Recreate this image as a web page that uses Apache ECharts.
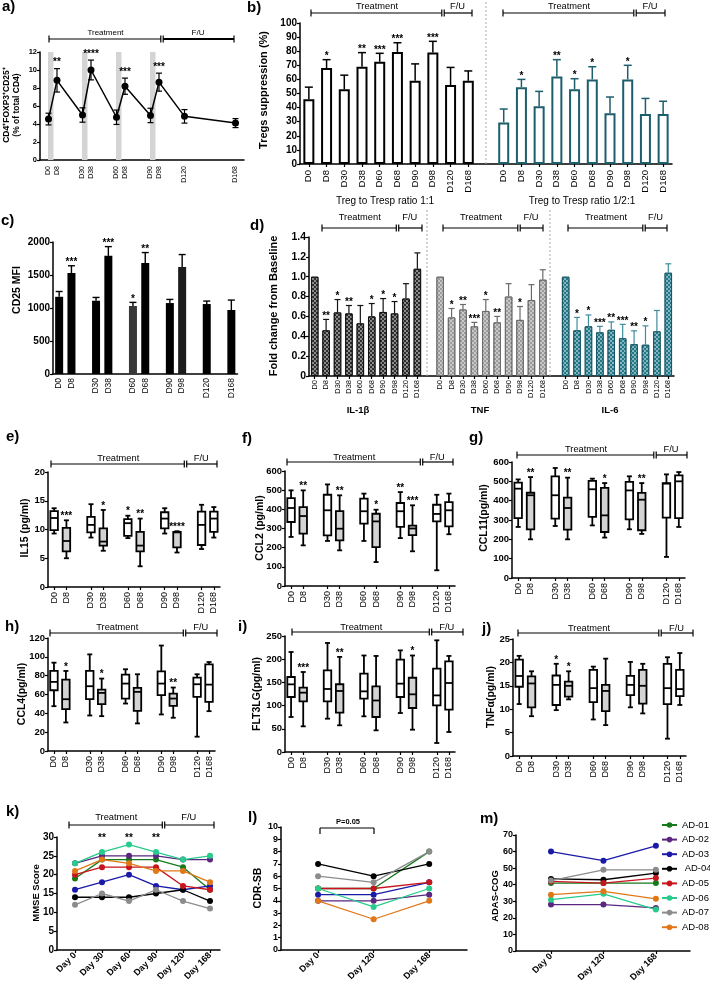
<!DOCTYPE html>
<html><head><meta charset="utf-8">
<script src="https://cdn.jsdelivr.net/npm/echarts@6/dist/echarts.min.js"></script>
<style>html,body{margin:0;padding:0;background:#fff}#c{width:710px;height:991px}</style>
</head><body><div id="c"></div>
<script>
// ================= DATA =================
const PHASES = ['Treatment', 'F/U'];
const days10 = ['D0','D8','D30','D38','D60','D68','D90','D98','D120','D168'];

// a) CD4+FOXP3+CD25+ (% of total CD4)
const aCats  = ['', 'D0','D8','','','D30','D38','','','D60','D68','','','D90','D98','','','D120','','','','','','D168',''];
const aMean  = [4.55, 8.85, 5.0, 10.0, 4.75, 8.2, 4.95, 8.65, 4.85, 4.1];
const aSem   = [0.65, 1.3, 0.8, 1.1, 0.8, 0.9, 0.8, 1.0, 0.75, 0.5];
const aStars = ['', '**', '', '****', '', '***', '', '***', '', ''];
const aShadeDays = ['D0','D30','D60','D90'];

// b) Tregs suppression (%)
const bGroupLabels = ['Treg to Tresp ratio 1:1', 'Treg to Tresp ratio 1/2:1'];
const b1Mean  = [46, 68, 53, 69, 72.5, 79.5, 59, 79, 56, 59];
const b1Top   = [54.5, 74, 63, 79, 78.5, 86, 71, 87, 68.5, 66];
const b1Stars = ['', '*', '', '**', '***', '***', '', '***', '', ''];
const b2Mean  = [29.5, 54.5, 41, 62, 53, 60, 36, 60, 35.5, 35.5];
const b2Top   = [39, 60, 51.5, 74, 60.5, 69, 47.5, 70, 46.5, 44.5];
const b2Stars = ['', '*', '', '**', '*', '*', '', '*', '', ''];

// c) CD25 MFI
const cCats  = ['D0','D8','','D30','D38','','D60','D68','','D90','D98','','D120','','D168'];
const cMean  = [1170, 1530, 1110, 1790, 1030, 1680, 1075, 1620, 1060, 970];
const cTop   = [1250, 1640, 1160, 1930, 1085, 1840, 1130, 1810, 1105, 1120];
const cStars = ['', '***', '', '***', '*', '**', '', '', '', ''];

// d) Fold change from baseline
const dGroupLabels = ['IL-1\u03b2', 'TNF', 'IL-6'];
const dIL1b      = [1.0, 0.46, 0.64, 0.63, 0.53, 0.60, 0.645, 0.63, 0.78, 1.08];
const dIL1bTop   = [null, 0.57, 0.77, 0.71, 0.71, 0.73, 0.78, 0.75, 0.93, 1.24];
const dIL1bStars = ['', '**', '*', '**', '', '*', '*', '*', '', ''];
const dTNF       = [1.0, 0.59, 0.67, 0.50, 0.655, 0.54, 0.80, 0.565, 0.765, 0.97];
const dTNFTop    = [null, 0.68, 0.72, 0.54, 0.77, 0.60, 0.93, 0.70, 0.92, 1.07];
const dTNFStars  = ['', '*', '**', '***', '*', '**', '', '*', '', ''];
const dIL6       = [1.0, 0.46, 0.50, 0.44, 0.465, 0.38, 0.32, 0.315, 0.45, 1.04];
const dIL6Top    = [null, 0.59, 0.615, 0.50, 0.545, 0.52, 0.455, 0.505, 0.66, 1.13];
const dIL6Stars  = ['', '*', '*', '***', '**', '***', '**', '*', '', ''];

// e)-j) box plots [min, Q1, median, Q3, max]
const boxCats = ['D0','D8','','D30','D38','','D60','D68','','D90','D98','','D120','D168'];
const boxGrayDays = ['D8','D38','D68','D98'];
const eIL15 = [[9.3,9.9,12.0,13.2,13.7],[5.0,6.2,8.0,10.3,11.6],[8.6,9.5,10.8,12.2,14.4],[6.3,7.2,7.9,10.2,13.4],[8.5,8.9,11.1,11.8,12.4],
               [3.6,6.2,7.2,9.6,11.9],[9.3,10.2,11.9,13.0,13.7],[6.0,6.9,9.5,9.6,9.7],[6.6,7.3,10.8,13.1,14.3],[8.6,9.6,11.9,13.1,13.9]];
const eStars = ['', '***', '', '*', '*', '**', '', '****', '', ''];
const fCCL2 = [[256,334,407,459,499],[212,273,365,412,499],[235,264,395,476,530],[186,238,299,391,473],[235,325,390,456,482],
               [125,203,337,377,398],[250,308,390,433,490],[181,265,300,315,421],[82,337,376,424,476],[270,311,395,438,482]];
const fStars = ['', '**', '', '**', '', '*', '**', '***', '', ''];
const gCCL11 = [[264,310,462,493,510],[200,252,428,441,522],[269,307,428,526,569],[200,250,362,416,519],[272,316,459,502,514],
                [209,238,324,466,491],[252,303,453,497,526],[228,247,405,440,491],[109,312,488,491,536],[264,310,500,531,548]];
const gStars = ['', '**', '', '**', '', '*', '', '**', '', ''];
const hCCL4 = [[47.6,64.5,73.4,85,93.8],[30.3,44.4,55,75.8,85],[37.7,55,68.8,85,102.6],[37,49.7,61.7,65.2,76.9],[50.4,55.7,71.6,81.1,86.8],
               [29.3,42.7,62.8,67,81.5],[38.8,59.3,71.6,84.6,112],[35.3,48,55.7,61,67.4],[15.2,57.5,70.9,78,81.5],[42.3,52.2,70.5,92,94.5]];
const hStars = ['', '*', '', '*', '', '', '', '**', '', ''];
const iFLT3LG = [[75.4,118.5,145.8,161.6,215.5],[55.3,109.2,127.9,138.6,172.4],[71.8,109.2,135.8,176,235],[57.5,84.8,131.5,146,205],[76.9,115,130.7,168.8,208],
                 [46.7,75.4,111,141.5,207],[84,118.5,147.3,199,219],[48.1,94.8,124.3,160,208],[19.4,100.6,122,179.6,240.7],[43.1,91.2,148.7,195.4,207]];
const iStars = ['', '***', '', '**', '', '', '', '*', '', ''];
const jTNFa = [[11.1,14.8,17.1,20.6,21.4],[8.5,10.4,15.5,17.0,18.1],[9.8,10.9,15.2,17.2,19.7],[12.1,12.7,15.0,15.9,18.1],[7.8,11.5,14.5,18.4,19.1],
               [6.6,9.6,13.9,15.2,20.8],[10.4,13.0,15.2,17.1,20.1],[9.1,11.2,15.0,18.4,19.7],[3.7,11.1,14.5,19.7,21.1],[10.9,12.8,14.3,18.4,22.0]];
const jStars = ['', '', '*', '*', '', '', '', '', '', ''];

// k)-m) clinical scores per subject
const subjects = ['AD-01','AD-02','AD-03','AD-04','AD-05','AD-06','AD-07','AD-08'];
const kDays = ['Day 0','Day 30','Day 60','Day 90','Day 120','Day 168'];
const mmse = [[19,24,24,24,22,16],[23,25,25,25,24,24],[16,18,20,17,16,17],[14,14,14,15,16,13],
              [20,22,22,22,17,16],[23,26,28,26,24,25],[12,15,13,16,13,11],[21,24,23,21,21,18]];
const kStars = ['', '**', '**', '**', '', ''];
const lmDays = ['Day 0','Day 120','Day 168'];
const cdrsb = [[5,5,8],[4,4,4.5],[4.5,4.5,5.5],[7,6,7],[5,5,5.5],[5,3.5,5],[6,5.5,8],[4,2.5,4]];
const lPText = 'P=0.05';
const adascog = [[41,41,41],[28,28,26],[60,54.5,63.5],[43.5,43,47],[42,41,44],[31,34.5,25],[42.5,49,49],[34,36,31.5]];

// ================= STYLE / HELPERS =================
const FF = '"Liberation Sans", Arial, Helvetica, sans-serif';
const K = '#000';
const TEAL = '#1d5e6d';
const SUBJ_COLORS = ['#16791c','#5a2680','#1a1aa8','#000000','#c8141c','#27cc8c','#8c8c8c','#e07818'];
const grid = [], xAxis = [], yAxis = [], series = [], graphic = [];

function addGrid(l, t, w, h) { grid.push({left: l, top: t, width: w, height: h}); return grid.length - 1; }

function catX(gi, cats, o) {
  xAxis.push({type: 'category', gridIndex: gi, data: cats, boundaryGap: o.bg !== false,
    axisLine: {show: true, onZero: false, lineStyle: {color: K, width: 1.5}},
    axisTick: {show: !!o.ticks, alignWithLabel: true, length: 3, interval: (i, v) => v !== '', lineStyle: {color: K, width: 1.2}},
    axisLabel: {show: true, interval: 0, rotate: 90, fontSize: o.fs || 9, fontWeight: o.fw || 'normal', fontFamily: FF, color: K, margin: o.margin || 4},
    splitLine: {show: false}});
}
function valX(gi, min, max, labels, o) {
  const cv = labels.map((_, i) => i);
  xAxis.push({type: 'value', gridIndex: gi, min, max,
    axisLine: {show: true, onZero: false, lineStyle: {color: K, width: 1.5}},
    axisTick: {show: true, customValues: cv, length: 3, lineStyle: {color: K, width: 1.2}},
    axisLabel: {customValues: cv, formatter: v => labels[Math.round(v)] || '', rotate: 45, fontSize: o.fs || 9, fontWeight: 'bold', fontFamily: FF, color: K, margin: 4},
    splitLine: {show: false}});
}
function valY(gi, min, max, interval, o) {
  yAxis.push({type: 'value', gridIndex: gi, min, max, interval,
    axisLine: {show: true, onZero: false, lineStyle: {color: K, width: 1.5}},
    axisTick: {show: true, length: 3, lineStyle: {color: K, width: 1.2}},
    axisLabel: {fontSize: o.fs || 9, fontWeight: 'bold', fontFamily: FF, color: K, margin: 3, formatter: o.fmt || (v => String(v))},
    splitLine: {show: false}});
}
function txt(x, y, str, font, o = {}) {
  graphic.push({type: 'text', x, y, rotation: o.rot || 0, silent: true, z: 10,
    style: {text: str, font, fill: o.color || K, textAlign: o.align || 'center', textVerticalAlign: o.va || 'middle',
            align: o.align || 'center', verticalAlign: o.va || 'middle', lineHeight: o.lh}});
}
function ln(x1, y1, x2, y2, o = {}) {
  graphic.push({type: 'line', silent: true, z: 10, shape: {x1, y1, x2, y2},
    style: {stroke: o.color || K, lineWidth: o.lw || 1.2, lineDash: o.dash || null}});
}
function bracket(x1, xm, x2, y, ty, fs, o = {}) {
  const lw = o.lw || 1.2, h = 3.5, g = 1.2;
  ln(x1, y, xm - g, y, {lw});
  ln(xm + g, y, x2, y, {lw: o.lw2 || lw});
  [x1, xm - g, xm + g, x2].forEach(x => ln(x, y - h, x, y + h, {lw}));
  txt((x1 + xm) / 2 + (o.dx1 || 0), ty, PHASES[0], fs + 'px ' + FF);
  txt((xm + x2) / 2, ty, PHASES[1], fs + 'px ' + FF);
}
function yTitle(x, y, str, fs, o = {}) { txt(x, y, str, 'bold ' + fs + 'px ' + FF, {rot: Math.PI / 2, lh: o.lh}); }
function panelLabel(x, y, str) { txt(x, y, str, 'bold 15px ' + FF, {align: 'left'}); }

function starEl(x, y, s, o) {
  return {type: 'text', x: x + (o.sdx || 0), y: y - (o.sg == null ? 3.5 : o.sg),
    style: {text: s, font: 'bold ' + (o.sfs || 10) + 'px ' + FF, fill: K, textAlign: 'center', textVerticalAlign: 'middle', align: 'center', verticalAlign: 'middle'}};
}
function errBars(gi, xs, lo, hi, o) {
  const data = [];
  xs.forEach((x, i) => { if (hi[i] != null) data.push([x, lo[i], hi[i], i]); });
  series.push({type: 'custom', xAxisIndex: gi, yAxisIndex: gi, z: o.z || 5, silent: true, clip: false, data,
    renderItem(params, api) {
      const x = api.value(0), l = api.value(1), h = api.value(2), i = api.value(3);
      const pl = api.coord([x, l]), ph = api.coord([x, h]);
      const col = o.colors ? o.colors[i] : (o.color || K);
      const st = {stroke: col, lineWidth: o.lw || 1.3, fill: null};
      const cw = (o.cap || 6) / 2;
      const ch = [
        {type: 'line', shape: {x1: pl[0], y1: pl[1], x2: ph[0], y2: ph[1]}, style: st},
        {type: 'line', shape: {x1: ph[0] - cw, y1: ph[1], x2: ph[0] + cw, y2: ph[1]}, style: st}
      ];
      if (o.both) ch.push({type: 'line', shape: {x1: pl[0] - cw, y1: pl[1], x2: pl[0] + cw, y2: pl[1]}, style: st});
      const s = o.stars && o.stars[i];
      if (s) ch.push(starEl(ph[0], ph[1], s, o));
      return {type: 'group', children: ch};
    }});
}
function starSeries(gi, xs, ys, stars, o) {
  const data = [];
  xs.forEach((x, i) => { if (stars[i]) data.push([x, ys[i], i]); });
  series.push({type: 'custom', xAxisIndex: gi, yAxisIndex: gi, z: 6, silent: true, clip: false, data,
    renderItem(params, api) {
      const p = api.coord([api.value(0), api.value(1)]);
      return starEl(p[0], p[1], stars[api.value(2)], o);
    }});
}
// box-and-whisker drawn through the axis scales
function boxPanel(gi, vals, stars) {
  const xs = days10.map(d => boxCats.indexOf(d));
  const fills = days10.map(d => boxGrayDays.includes(d) ? '#d3d3d3' : '#fff');
  series.push({type: 'custom', xAxisIndex: gi, yAxisIndex: gi, z: 3, silent: true, clip: false,
    data: xs.map((x, i) => [x].concat(vals[i], [i])),
    renderItem(params, api) {
      const x = api.value(0), i = api.value(6);
      const p = [1, 2, 3, 4, 5].map(k => api.coord([x, api.value(k)]));
      const cx = p[0][0], bw = 7.5, cw = 5;
      const st = {stroke: K, lineWidth: 1.8, fill: null};
      return {type: 'group', children: [
        {type: 'line', shape: {x1: cx, y1: p[0][1], x2: cx, y2: p[1][1]}, style: st},
        {type: 'line', shape: {x1: cx, y1: p[3][1], x2: cx, y2: p[4][1]}, style: st},
        {type: 'line', shape: {x1: cx - cw / 2, y1: p[0][1], x2: cx + cw / 2, y2: p[0][1]}, style: st},
        {type: 'line', shape: {x1: cx - cw / 2, y1: p[4][1], x2: cx + cw / 2, y2: p[4][1]}, style: st},
        {type: 'rect', shape: {x: cx - bw / 2, y: p[3][1], width: bw, height: p[1][1] - p[3][1]}, style: {stroke: K, lineWidth: 1.8, fill: fills[i]}},
        {type: 'line', shape: {x1: cx - bw / 2, y1: p[2][1], x2: cx + bw / 2, y2: p[2][1]}, style: st}
      ]};
    }});
  starSeries(gi, xs, vals.map(v => v[4]), stars, {sg: 4});
}
function subjectLines(gi, vals) {
  subjects.forEach((name, s) => series.push({type: 'line', name, xAxisIndex: gi, yAxisIndex: gi,
    data: vals[s].map((v, i) => [i, v]), symbol: 'circle', symbolSize: 6, z: 3,
    lineStyle: {width: 1.3, color: SUBJ_COLORS[s]}, itemStyle: {color: SUBJ_COLORS[s]}}));
}

// ================= PANEL a =================
{
  const gi = addGrid(40, 52, 204, 108);
  catX(gi, aCats, {bg: false, fs: 7, margin: 6});
  valY(gi, 0, 12, 2, {fs: 7.5});
  const xs = days10.map(d => aCats.indexOf(d));
  series.push({type: 'custom', xAxisIndex: gi, yAxisIndex: gi, z: 1, silent: true,
    data: aShadeDays.map(d => [aCats.indexOf(d), 12]),
    renderItem(params, api) {
      const p0 = api.coord([api.value(0), 0]), p1 = api.coord([api.value(0), api.value(1)]);
      return {type: 'rect', shape: {x: p0[0] - 0.5, y: p1[1], width: 5.5, height: p0[1] - p1[1]}, style: {fill: '#d4d4d4'}};
    }});
  series.push({type: 'line', xAxisIndex: gi, yAxisIndex: gi, data: xs.map((x, i) => [x, aMean[i]]), z: 4,
    symbol: 'circle', symbolSize: 7, lineStyle: {color: K, width: 1.5}, itemStyle: {color: K}, silent: true});
  errBars(gi, xs, aMean.map((m, i) => m - aSem[i]), aMean.map((m, i) => m + aSem[i]), {both: true, cap: 6, lw: 1.2, stars: aStars, sg: 6});
  bracket(49, 162, 234, 39, 33, 8, {lw2: 2});
  yTitle(12, 105, 'CD4\u207aFOXP3\u207aCD25\u207a\n(% of total CD4)', 8.5, {lh: 10});
  panelLabel(2, 7, 'a)');
}

// ================= PANEL b =================
{
  const gi = addGrid(300, 23, 372, 141);
  const cats = days10.concat([''], days10);
  catX(gi, cats, {ticks: true, fs: 9.5, margin: 6});
  valY(gi, 0, 100, 10, {fs: 10});
  const xs1 = days10.map((d, i) => i), xs2 = days10.map((d, i) => i + 11);
  const data = xs1.map((x, i) => ({value: [x, b1Mean[i]], itemStyle: {color: '#fff', borderColor: K, borderWidth: 2}}))
    .concat(xs2.map((x, i) => ({value: [x, b2Mean[i]], itemStyle: {color: '#fff', borderColor: TEAL, borderWidth: 2}})));
  series.push({type: 'bar', xAxisIndex: gi, yAxisIndex: gi, barWidth: 11, data, z: 3, silent: true});
  errBars(gi, xs1, b1Mean, b1Top, {cap: 8, lw: 1.5, stars: b1Stars});
  errBars(gi, xs2, b2Mean, b2Top, {cap: 8, lw: 1.5, color: TEAL, stars: b2Stars});
  bracket(311, 443, 472, 13, 6, 9.3);
  bracket(503, 635, 665, 13, 6, 9.3);
  ln(486, 2, 486, 164, {color: '#aaa', lw: 1, dash: [2, 2]});
  txt(385, 201, bGroupLabels[0], '10px ' + FF);
  txt(582, 201, bGroupLabels[1], '10px ' + FF);
  yTitle(264, 90, 'Tregs suppression (%)', 11);
  panelLabel(247, 8, 'b)');
}

// ================= PANEL c =================
{
  const gi = addGrid(53, 242, 184.5, 132);
  catX(gi, cCats, {fs: 8.5, margin: 4});
  valY(gi, 0, 2000, 500, {fs: 10});
  const xs = days10.map(d => cCats.indexOf(d));
  const cols = days10.map(d => d === 'D60' ? '#383838' : (d === 'D98' ? '#1c1c1c' : K));
  series.push({type: 'bar', xAxisIndex: gi, yAxisIndex: gi, barWidth: 8, z: 3, silent: true,
    data: xs.map((x, i) => ({value: [x, cMean[i]], itemStyle: {color: cols[i]}}))});
  errBars(gi, xs, cMean, cTop, {cap: 7, lw: 1.4, stars: cStars});
  yTitle(17, 290, 'CD25 MFI', 10.5);
  panelLabel(1, 221, 'c)');
}

// ================= PANEL d =================
{
  const gi = addGrid(309, 237, 365, 139);
  const cats = days10.concat([''], days10, [''], days10);
  catX(gi, cats, {ticks: true, fs: 7.5, margin: 4});
  valY(gi, 0, 1.4, 0.2, {fs: 10.5, fmt: v => v === 0 ? '0' : v.toFixed(1)});
  const groups = [
    {vals: dIL1b, top: dIL1bTop, stars: dIL1bStars, fill: '#2e2e2e', border: '#111', err: '#111', off: 0},
    {vals: dTNF, top: dTNFTop, stars: dTNFStars, fill: '#9c9c9c', border: '#6a6a6a', err: '#6a6a6a', off: 11},
    {vals: dIL6, top: dIL6Top, stars: dIL6Stars, fill: '#21798a', border: '#185866', err: '#3f8c9b', off: 22}
  ];
  const data = [];
  groups.forEach(g => {
    const xs = days10.map((d, i) => i + g.off);
    xs.forEach((x, i) => data.push({value: [x, g.vals[i]], itemStyle: {color: g.fill, borderColor: g.border, borderWidth: 1,
      decal: {symbol: 'rect', symbolSize: 1, dashArrayX: [[1.5, 1.5], [0, 1.5, 1.5, 0]], dashArrayY: [1.5, 0], color: 'rgba(255,255,255,0.45)'}}}));
    errBars(gi, xs, g.vals, g.top, {cap: 6, lw: 1.2, color: g.err, stars: g.stars});
  });
  series.push({type: 'bar', xAxisIndex: gi, yAxisIndex: gi, barWidth: 7.5, data, z: 3, silent: true});
  ln(427, 210, 427, 376, {color: '#aaa', lw: 1, dash: [2, 2]});
  ln(550, 210, 550, 376, {color: '#aaa', lw: 1, dash: [2, 2]});
  bracket(322, 397.5, 422, 228, 217, 9.3);
  bracket(443, 519, 543, 228, 217, 9.3);
  bracket(568, 644, 667, 228, 217, 9.3);
  txt(358, 410, dGroupLabels[0], 'bold 9.5px ' + FF);
  txt(480, 410, dGroupLabels[1], 'bold 9.5px ' + FF);
  txt(610, 410, dGroupLabels[2], 'bold 9.5px ' + FF);
  yTitle(274, 306, 'Fold change from Baseline', 11);
  panelLabel(250, 226, 'd)');
}

// ================= PANELS e-j =================
const boxPanels = [
  {l: 48, t: 472, w: 172, h: 115, max: 20, step: 5, vals: eIL15, stars: eStars, title: 'IL15 (pg/ml)', tx: 25, ty: 528, br: [51, 185.5, 217, 464, 458], lab: 'e)', lx: 6, ly: 437},
  {l: 285, t: 471, w: 170, h: 115, max: 600, step: 100, vals: fCCL2, stars: fStars, title: 'CCL2 (pg/ml)', tx: 260, ty: 528, br: [287, 421.5, 453, 462, 457], lab: 'f)', lx: 242, ly: 439},
  {l: 512, t: 462, w: 173, h: 116, max: 600, step: 100, vals: gCCL11, stars: gStars, title: 'CCL11(pg/ml)', tx: 484, ty: 518, br: [517, 655, 687, 455, 449], lab: 'g)', lx: 469, ly: 438},
  {l: 48, t: 638, w: 167, h: 113, max: 120, step: 20, vals: hCCL4, stars: hStars, title: 'CCL4(pg/ml)', tx: 22, ty: 694, br: [50, 184.5, 217, 633, 627], lab: 'h)', lx: 5, ly: 627},
  {l: 285, t: 636, w: 170, h: 116, max: 250, step: 50, vals: iFLT3LG, stars: iStars, title: 'FLT3LG(pg/ml)', tx: 257, ty: 694, br: [292, 430.5, 463, 632, 627], lab: 'i)', lx: 238, ly: 627},
  {l: 513, t: 639, w: 173, h: 117, max: 25, step: 5, vals: jTNFa, stars: jStars, title: 'TNF\u03b1(pg/ml)', tx: 491, ty: 697, br: [518, 660, 693, 633, 628], lab: 'j)', lx: 482, ly: 629}
];
boxPanels.forEach(p => {
  const gi = addGrid(p.l, p.t, p.w, p.h);
  catX(gi, boxCats, {ticks: true, fs: 9, margin: 5});
  valY(gi, 0, p.max, p.step, {fs: 9.5});
  boxPanel(gi, p.vals, p.stars);
  bracket(p.br[0], p.br[1], p.br[2], p.br[3], p.br[4], 9.3);
  yTitle(p.tx, p.ty, p.title, 10.5);
  panelLabel(p.lx, p.ly, p.lab);
});

// ================= PANEL k =================
{
  const gi = addGrid(57, 837, 163, 113);
  valX(gi, -0.667, 5.37, kDays, {fs: 9});
  valY(gi, 0, 30, 5, {fs: 10});
  subjectLines(gi, mmse);
  starSeries(gi, kDays.map((d, i) => i), kDays.map(() => 30), kStars, {sg: -1});
  bracket(69, 163.5, 214, 825, 817, 9.3);
  yTitle(36, 893, 'MMSE Score', 9.5);
  panelLabel(6, 812, 'k)');
}
// ================= PANEL l =================
{
  const gi = addGrid(281, 827, 186, 123);
  valX(gi, -0.667, 2.68, lmDays, {fs: 9});
  valY(gi, 0, 10, 1, {fs: 9});
  subjectLines(gi, cdrsb);
  ln(320, 828, 374, 828, {lw: 1.2});
  ln(320, 828, 320, 834, {lw: 1.2});
  ln(374, 828, 374, 834, {lw: 1.2});
  txt(348, 822, lPText, 'bold 7.5px ' + FF);
  yTitle(258, 888, 'CDR-SB', 10.5);
  panelLabel(248, 818, 'l)');
}
// ================= PANEL m =================
{
  const gi = addGrid(516, 835, 174, 116);
  valX(gi, -0.667, 2.65, lmDays, {fs: 9});
  valY(gi, 0, 70, 10, {fs: 9});
  subjectLines(gi, adascog);
  yTitle(495, 896, 'ADAS-COG', 9.5);
  panelLabel(480, 819, 'm)');
}

const chart = echarts.init(document.getElementById('c'), null, {renderer: 'canvas', width: 710, height: 991});
chart.setOption({
  animation: false,
  backgroundColor: '#fff',
  textStyle: {fontFamily: FF},
  grid, xAxis, yAxis, series, graphic,
  legend: {data: subjects, orient: 'vertical', left: 661, top: 820, padding: 0, itemWidth: 15, itemHeight: 7, itemGap: 4.6,
    formatter: n => n === 'AD-04' ? ' AD-04' : n,
    textStyle: {fontSize: 9.5, fontFamily: FF, color: K}, selectedMode: false}
});
</script></body></html>
